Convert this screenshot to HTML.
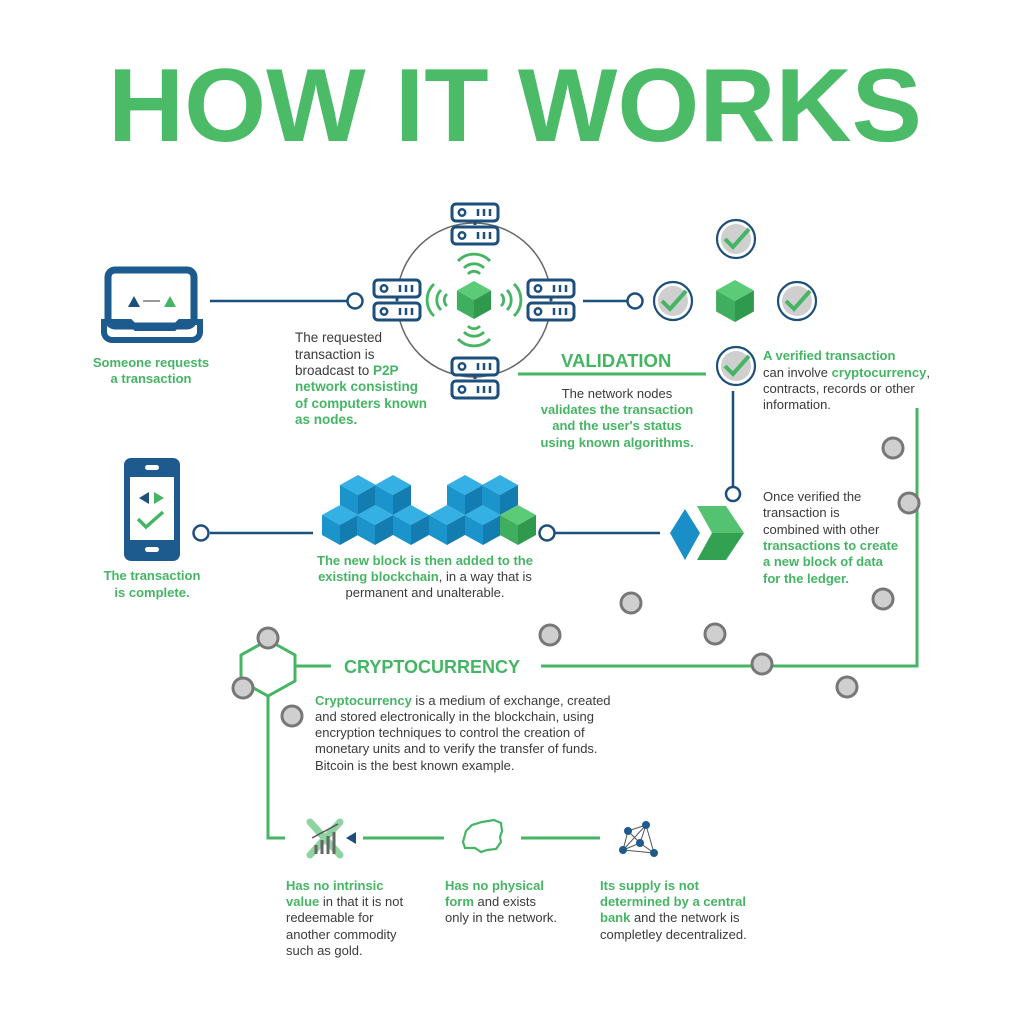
<!DOCTYPE html>
<html><head><meta charset="utf-8"><style>
html,body{margin:0;padding:0;background:#fff;}
svg{display:block;}
text{font-family:"Liberation Sans",Arial,sans-serif;}
.g{fill:#45b564;}
.k{fill:#3a3a3a;}
.b{font-weight:bold;}
</style></head><body>
<svg width="1024" height="1024" viewBox="0 0 1024 1024" xmlns="http://www.w3.org/2000/svg">
<defs>
<g id="srv"><rect x="-23" y="-9" width="46" height="17" rx="4" fill="#fff" stroke="#1d4f7c" stroke-width="3"/><circle cx="-13" cy="-0.5" r="3.2" fill="none" stroke="#1d4f7c" stroke-width="2.5"/><path d="M3 -4v7M9 -4v7M15 -4v7" stroke="#1d4f7c" stroke-width="2.5"/></g>
<g id="srv2"><use href="#srv" y="-11"/><use href="#srv" y="12"/><path d="M0 -2v3" stroke="#1d4f7c" stroke-width="3"/></g>
<g id="cb"><path d="M0 -20L18 -10L0 0L-18 -10Z" fill="#35b0e4"/><path d="M-18 -10L0 0L0 20L-18 10Z" fill="#1b93cb"/><path d="M18 -10L0 0L0 20L18 10Z" fill="#137cb0"/></g>
<g id="gcb"><path d="M0 -20L18 -10L0 0L-18 -10Z" fill="#5ccb78"/><path d="M-18 -10L0 0L0 20L-18 10Z" fill="#3fae5e"/><path d="M18 -10L0 0L0 20L18 10Z" fill="#2f9a4e"/></g>
<g id="chk"><circle r="19" fill="#fff" stroke="#1d4f7c" stroke-width="2.2"/><circle r="15" fill="#cfcfcf"/><path d="M-11 0L-3 8L13 -10" fill="none" stroke="#45b564" stroke-width="4"/></g>
<g id="gc"><circle r="10" fill="#cfcfcf" stroke="#777" stroke-width="3"/></g>
</defs>

<text x="515" y="141" text-anchor="middle" font-size="104" font-weight="bold" fill="#4cbb68" textLength="814" lengthAdjust="spacingAndGlyphs">HOW IT WORKS</text>

<!-- laptop -->
<rect x="108" y="270" width="86" height="56" rx="7" fill="none" stroke="#1d5a8e" stroke-width="7"/>
<path d="M104 322h26l6 6h38l6-6h20v10a8 8 0 0 1-8 8h-80a8 8 0 0 1-8-8z" fill="none" stroke="#1d5a8e" stroke-width="6"/>
<path d="M128 307l6-11l6 11z" fill="#1d4f7c"/><path d="M164 307l6-11l6 11z" fill="#45b564"/><path d="M143 301h17" stroke="#333" stroke-width="1"/>
<text x="151" y="367" text-anchor="middle" font-size="13" class="g b">Someone requests</text>
<text x="151" y="383" text-anchor="middle" font-size="13" class="g b">a transaction</text>
<path d="M210 301H347" stroke="#1d4f7c" stroke-width="2.5"/>
<circle cx="355" cy="301" r="7.5" fill="#fff" stroke="#1d4f7c" stroke-width="2.5"/>

<!-- network -->
<circle cx="474" cy="300" r="77" fill="none" stroke="#666" stroke-width="1.5"/>
<use href="#srv2" x="475" y="224"/>
<use href="#srv2" x="397" y="300"/>
<use href="#srv2" x="551" y="300"/>
<use href="#srv2" x="475" y="378"/>
<g transform="translate(474,300) scale(0.95)"><use href="#gcb"/></g>
<g fill="none" stroke="#45b564" stroke-width="2.8">
<path d="M464 268a14 14 0 0 1 20 0M458 261a22 22 0 0 1 32 0M468 274a8 8 0 0 1 12 0"/>
<path d="M464 332a14 14 0 0 0 20 0M458 339a22 22 0 0 0 32 0M468 326a8 8 0 0 0 12 0"/>
<path d="M441 290a14 14 0 0 0 0 20M434 284a22 22 0 0 0 0 32M447 294a8 8 0 0 0 0 12"/>
<path d="M507 290a14 14 0 0 1 0 20M514 284a22 22 0 0 1 0 32M501 294a8 8 0 0 1 0 12"/>
</g>
<g font-size="13.5">
<text x="295" y="342" class="k">The requested</text>
<text x="295" y="359" class="k">transaction is</text>
<text x="295" y="375"><tspan class="k">broadcast to </tspan><tspan class="g b">P2P</tspan></text>
<text x="295" y="391" class="g b">network consisting</text>
<text x="295" y="408" class="g b">of computers known</text>
<text x="295" y="424" class="g b">as nodes.</text>
</g>

<!-- validation -->
<path d="M583 301H627" stroke="#1d4f7c" stroke-width="2.5"/>
<circle cx="635" cy="301" r="7.5" fill="#fff" stroke="#1d4f7c" stroke-width="2.5"/>
<use href="#chk" x="673" y="301"/>
<use href="#chk" x="736" y="239"/>
<use href="#chk" x="797" y="301"/>
<use href="#chk" x="736" y="366"/>
<g transform="translate(735,301) scale(1.05)"><use href="#gcb"/></g>
<text x="561" y="367" font-size="18.5" class="g b">VALIDATION</text>
<path d="M518 374H706" stroke="#45b564" stroke-width="3"/>
<g font-size="13" text-anchor="middle">
<text x="617" y="398" class="k">The network nodes</text>
<text x="617" y="414" class="g b">validates the transaction</text>
<text x="617" y="430" class="g b">and the user's status</text>
<text x="617" y="447" class="g b">using known algorithms.</text>
</g>
<g font-size="13">
<text x="763" y="360" class="g b">A verified transaction</text>
<text x="763" y="377"><tspan class="k">can involve </tspan><tspan class="g b">cryptocurrency</tspan><tspan class="k">,</tspan></text>
<text x="763" y="393" class="k">contracts, records or other</text>
<text x="763" y="409" class="k">information.</text>
</g>
<path d="M733 391V487" stroke="#1d4f7c" stroke-width="2.5"/>
<circle cx="733" cy="494" r="7" fill="#fff" stroke="#1d4f7c" stroke-width="2.5"/>
<g font-size="13">
<text x="763" y="501" class="k">Once verified the</text>
<text x="763" y="517" class="k">transaction is</text>
<text x="763" y="534" class="k">combined with other</text>
<text x="763" y="550" class="g b">transactions to create</text>
<text x="763" y="566" class="g b">a new block of data</text>
<text x="763" y="583" class="g b">for the ledger.</text>
</g>
<path d="M685 509L700 533L685 560L670 533Z" fill="#1a8fc7"/>
<path d="M697 506H726L744 533H712Z" fill="#55c272"/>
<path d="M712 533H744L726 560H697Z" fill="#33a152"/>

<!-- blockchain row -->
<path d="M555 533H660" stroke="#1d4f7c" stroke-width="2.5"/>
<circle cx="547" cy="533" r="7.5" fill="#fff" stroke="#1d4f7c" stroke-width="2.5"/>
<path d="M210 533H313" stroke="#1d4f7c" stroke-width="2.5"/>
<circle cx="201" cy="533" r="7.5" fill="#fff" stroke="#1d4f7c" stroke-width="2.5"/>
<use href="#cb" x="358" y="495"/><use href="#cb" x="393" y="495"/><use href="#cb" x="465" y="495"/><use href="#cb" x="500" y="495"/>
<use href="#cb" x="340" y="525"/><use href="#cb" x="375" y="525"/><use href="#cb" x="411" y="525"/><use href="#cb" x="447" y="525"/><use href="#cb" x="483" y="525"/><use href="#gcb" x="518" y="525"/>
<g font-size="13" text-anchor="middle">
<text x="425" y="565" class="g b">The new block is then added to the</text>
<text x="425" y="581"><tspan class="g b">existing blockchain</tspan><tspan class="k">, in a way that is</tspan></text>
<text x="425" y="597" class="k">permanent and unalterable.</text>
</g>
<!-- phone -->
<rect x="124" y="458" width="56" height="103" rx="7" fill="#1d5a8e"/>
<rect x="130" y="477" width="44" height="63" fill="#fff"/>
<rect x="145" y="465" width="14" height="5" rx="2.5" fill="#fff"/>
<rect x="145" y="547" width="14" height="5" rx="2.5" fill="#fff"/>
<path d="M149 492l-10 6l10 6z" fill="#1d4f7c"/><path d="M154 492l10 6l-10 6z" fill="#45b564"/>
<path d="M138 519l8 8l17-15" fill="none" stroke="#45b564" stroke-width="3.5"/>
<text x="152" y="580" text-anchor="middle" font-size="13" class="g b">The transaction</text>
<text x="152" y="597" text-anchor="middle" font-size="13" class="g b">is complete.</text>

<!-- green path -->
<path d="M917 408V666H541" fill="none" stroke="#45b564" stroke-width="3"/>
<path d="M296 666H331" stroke="#45b564" stroke-width="3"/>
<path d="M268 640L295 655V681L268 696L241 681V655Z" fill="none" stroke="#45b564" stroke-width="3"/>
<path d="M268 696V838H285" fill="none" stroke="#45b564" stroke-width="3"/>
<text x="344" y="673" font-size="18" class="g b">CRYPTOCURRENCY</text>
<g font-size="13">
<text x="315" y="705"><tspan class="g b">Cryptocurrency</tspan><tspan class="k"> is a medium of exchange, created</tspan></text>
<text x="315" y="721" class="k">and stored electronically in the blockchain, using</text>
<text x="315" y="737" class="k">encryption techniques to control the creation of</text>
<text x="315" y="753" class="k">monetary units and to verify the transfer of funds.</text>
<text x="315" y="770" class="k">Bitcoin is the best known example.</text>
</g>
<use href="#gc" x="893" y="448"/><use href="#gc" x="909" y="503"/><use href="#gc" x="883" y="599"/><use href="#gc" x="631" y="603"/>
<use href="#gc" x="550" y="635"/><use href="#gc" x="715" y="634"/><use href="#gc" x="762" y="664"/><use href="#gc" x="847" y="687"/>
<use href="#gc" x="268" y="638"/><use href="#gc" x="243" y="688"/><use href="#gc" x="292" y="716"/>

<!-- bottom icons -->
<path d="M363 838H444M521 838H600" stroke="#45b564" stroke-width="3"/>
<path d="M346 838l10-6v12z" fill="#1d4f7c"/>
<path d="M310 822L340 855M340 822L310 855" stroke="#8fd3a3" stroke-width="7" stroke-linecap="round"/>
<path d="M316 845v9M322 840v14M328 836v18M334 832v22" stroke="#666" stroke-width="3"/>
<path d="M312 838L338 824" stroke="#555" stroke-width="1.5"/>
<path d="M466 831l6-6 10-3 12-2 7 3 1 8-2 6 1 5-5 7-9 1-6 2-6-4-10 0-2-6z" fill="none" stroke="#45b564" stroke-width="2.2"/>
<g stroke="#555" stroke-width="1" fill="none"><path d="M628 831L646 825L640 843L623 850L628 831L640 843L654 853L646 825M646 825L623 850M623 850L654 853"/></g>
<g fill="#1d5a8e"><circle cx="628" cy="831" r="4"/><circle cx="646" cy="825" r="4"/><circle cx="640" cy="843" r="4"/><circle cx="623" cy="850" r="4"/><circle cx="654" cy="853" r="4"/></g>
<g font-size="13">
<text x="286" y="890" class="g b">Has no intrinsic</text>
<text x="286" y="906"><tspan class="g b">value</tspan><tspan class="k"> in that it is not</tspan></text>
<text x="286" y="922" class="k">redeemable for</text>
<text x="286" y="939" class="k">another commodity</text>
<text x="286" y="955" class="k">such as gold.</text>
<text x="445" y="890" class="g b">Has no physical</text>
<text x="445" y="906"><tspan class="g b">form</tspan><tspan class="k"> and exists</tspan></text>
<text x="445" y="922" class="k">only in the network.</text>
<text x="600" y="890" class="g b">Its supply is not</text>
<text x="600" y="906" class="g b">determined by a central</text>
<text x="600" y="922"><tspan class="g b">bank</tspan><tspan class="k"> and the network is</tspan></text>
<text x="600" y="939" class="k">completley decentralized.</text>
</g>
</svg>
</body></html>
